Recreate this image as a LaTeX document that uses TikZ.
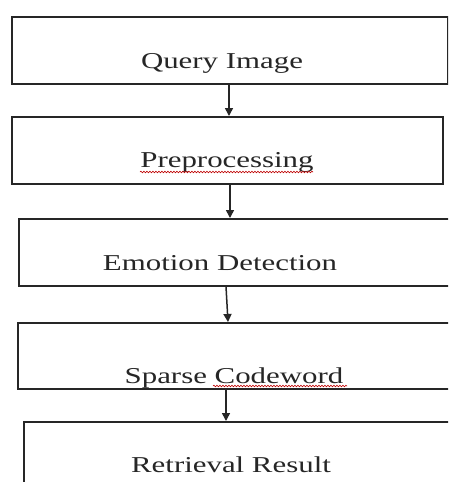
\documentclass[tikz,border=0pt]{standalone}
\usepackage{fontspec}
\newfontfamily\flowfont[FakeStretch=1.36]{Liberation Serif}
\usetikzlibrary{arrows.meta,decorations.pathmorphing}
\begin{document}
\begin{tikzpicture}[x=1pt,y=-1pt,
 box/.style={draw=black!85,line width=1.5pt,rectangle,inner sep=0pt,anchor=north west},
 lbl/.style={anchor=base,inner sep=0pt,font=\flowfont\fontsize{22.7}{26}\selectfont,text=black!85},
 arr/.style={draw=black!85,line width=1.5pt,-{Triangle[length=8pt,width=8pt]}},
 squig/.style={draw=red!75!black,line width=0.6pt,decorate,decoration={snake,amplitude=0.8pt,segment length=3pt}}]
\useasboundingbox (0,0) rectangle (448,482);
\clip (0,0) rectangle (448,482);
\fill[white] (0,0) rectangle (448,482);
% boxes
\node[box,minimum width=436pt,minimum height=67pt] (b1) at (11,16) {};
\node[box,minimum width=431pt,minimum height=67pt] (b2) at (11,116) {};
\node[box,minimum width=450pt,minimum height=67pt] (b3) at (18,218) {};
\node[box,minimum width=450pt,minimum height=66pt] (b4) at (17,322) {};
\node[box,minimum width=450pt,minimum height=100pt] (b5) at (23,421) {};
% labels
\node[lbl] (t1) at (222,68) {Query Image};
\node[lbl] (t2) at (227,167) {Preprocessing};
\node[lbl] (t3) at (220,270) {Emotion Detection};
\node[lbl] (t4) at (234,383) {Sparse Codeword};
\node[lbl] (t5) at (231,472) {Retrieval Result};
% spell-check underlines
\draw[squig] (140,172) -- (313,172);
\draw[squig] (213,386) -- (347,386);
% arrows
\coordinate (a1) at (229,0);
\coordinate (a2) at (230,0);
\coordinate (a3s) at (226,0);
\coordinate (a3e) at (228,0);
\coordinate (a4) at (226,0);
\draw[arr] (b1.south -| a1) -- (b2.north -| a1);
\draw[arr] (b2.south -| a2) -- (b3.north -| a2);
\draw[arr] (b3.south -| a3s) -- (b4.north -| a3e);
\draw[arr] (b4.south -| a4) -- (b5.north -| a4);
\end{tikzpicture}
\end{document}
